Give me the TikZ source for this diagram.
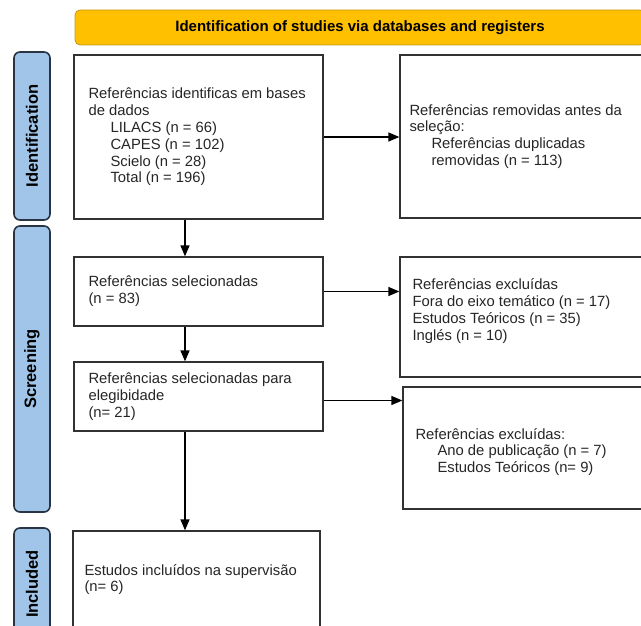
\documentclass[tikz,border=0pt]{standalone}
\usepackage{fontspec}
\setmainfont{Liberation Sans}
\usetikzlibrary{arrows.meta}
\definecolor{bannerfill}{RGB}{255,192,0}
\definecolor{bannerline}{RGB}{196,150,30}
\definecolor{stagefill}{RGB}{160,197,232}
\definecolor{stageline}{RGB}{40,52,68}
\definecolor{boxline}{RGB}{50,50,50}
\newcommand\Ind{\hspace*{22pt}}
\tikzset{
  banner/.style={
    shape = rectangle,
    draw = bannerline,
    fill = bannerfill,
    line width = 0.8pt,
    rounded corners = 5pt,
    inner sep = 0pt,
    font = \fontsize{15}{18}\selectfont\bfseries
  },
  stage/.style={
    shape = rectangle,
    draw = stageline,
    fill = stagefill,
    line width = 1.6pt,
    rounded corners = 6pt,
    inner sep = 0pt,
    minimum height = 36pt,
    rotate = 90,
    font = \fontsize{16.5}{18}\selectfont\bfseries
  },
  record/.style={
    shape = rectangle,
    draw = boxline,
    fill = white,
    line width = 1.3pt,
    inner sep = 0pt
  },
  recordtext/.style={
    anchor = west,
    align = left,
    inner sep = 0pt,
    text = black!85,
    font = \fontsize{14.8}{16.8}\selectfont
  },
  flow/.style={
    line width = 1.3pt,
    -{Triangle[length=11pt,width=9pt]}
  }
}
\begin{document}
\begin{tikzpicture}[x=1pt,y=-1pt]
  \useasboundingbox (0,0) rectangle (641,626);
  \clip (0,0) rectangle (641,626);
  \node[banner, minimum width=570pt, minimum height=35pt] (title) at (360,27.5)
    {Identification of studies via databases and registers};

  % phases
  \node[stage, minimum width=168pt] (ident) at (32,136) {Identification};
  \node[stage, minimum width=286pt] (screen) at (32,369) {Screening};
  \node[stage, minimum width=112pt] (incl) at (32,584) {Included};

  % left column
  \node[record, minimum width=249pt, minimum height=164pt] (found) at (198.5,137) {};
  \node[record, minimum width=249pt, minimum height=69pt] (screened) at (198.5,291.5) {};
  \node[record, minimum width=249pt, minimum height=69pt] (eligible) at (198.5,396.5) {};
  \node[record, minimum width=247pt, minimum height=109pt] (included) at (196.5,585.5) {};

  % right column
  \node[record, minimum width=260pt, minimum height=163pt] (removed) at (530,136.5) {};
  \node[record, minimum width=260pt, minimum height=120pt] (excl) at (530,317) {};
  \node[record, minimum width=257pt, minimum height=122pt] (exclfull) at (531.5,448) {};

  \node[recordtext] (foundtxt) at ([xshift=15pt]found.west)
    {Referências identificas em bases\\de dados\\\Ind LILACS (n = 66)\\\Ind CAPES (n = 102)\\\Ind Scielo (n = 28)\\\Ind Total (n = 196)};
  \node[recordtext] (removedtxt) at ([xshift=10pt]removed.west)
    {Referências removidas antes da\\seleção:\\\Ind Referências duplicadas\\\Ind removidas (n = 113)};
  \node[recordtext] (screenedtxt) at ([xshift=15pt]screened.west)
    {Referências selecionadas\\(n = 83)};
  \node[recordtext] (excltxt) at ([xshift=13pt,yshift=6pt]excl.west)
    {Referências excluídas\\Fora do eixo temático (n = 17)\\Estudos Teóricos (n = 35)\\Inglés (n = 10)};
  \node[recordtext] (eligibletxt) at ([xshift=15pt]eligible.west)
    {Referências selecionadas para\\elegibidade\\(n= 21)};
  \node[recordtext] (exclfulltxt) at ([xshift=13pt,yshift=-4pt]exclfull.west)
    {Referências excluídas:\\\Ind Ano de publicação (n = 7)\\\Ind Estudos Teóricos (n= 9)};
  \node[recordtext] (includedtxt) at ([xshift=12pt,yshift=6pt]included.west)
    {Estudos incluídos na supervisão\\(n= 6)};

  \coordinate (spine) at (185,0);
  \draw[flow] (found.south -| spine) -- (screened.north -| spine);
  \draw[flow] (screened.south -| spine) -- (eligible.north -| spine);
  \draw[flow] (eligible.south -| spine) -- (included.north -| spine);
  \draw[flow] (found.east) -- (found.east -| removed.west);
  \draw[flow] (screened.east) -- (screened.east -| excl.west);
  \draw[flow] ([yshift=-4pt]eligible.east) -- ([yshift=-4pt]eligible.east -| exclfull.west);
\end{tikzpicture}
\end{document}
